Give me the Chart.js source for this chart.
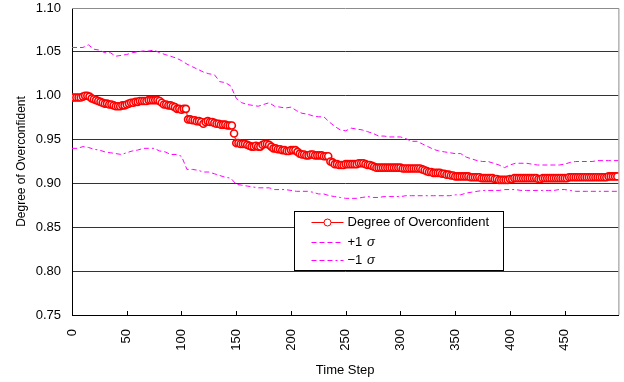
<!DOCTYPE html>
<html>
<head>
<meta charset="utf-8">
<script src="https://cdn.jsdelivr.net/npm/chart.js@4.4.1/dist/chart.umd.min.js"></script>
<style>
  html, body { margin: 0; padding: 0; background: #fff; }
  #wrap { width: 624px; height: 382px; }
</style>
</head>
<body>
<div id="wrap"><canvas id="chart" width="624" height="382"></canvas></div>
<script>
// time steps: mean sampled every 2 steps, sigma bands every 5 steps (last one at 499)
const meanSteps = Array.from({ length: 250 }, (_, i) => i * 2);
const sigmaSteps = [...Array.from({ length: 100 }, (_, i) => i * 5), 499];

const meanValues = [
  0.998, 0.998, 0.998, 0.998, 0.998, 0.999, 1.000, 1.000, 0.999, 0.997,
  0.996, 0.995, 0.994, 0.993, 0.992, 0.991, 0.991, 0.990, 0.990, 0.989,
  0.988, 0.988, 0.988, 0.989, 0.989, 0.990, 0.991, 0.992, 0.992, 0.993,
  0.993, 0.994, 0.994, 0.994, 0.994, 0.995, 0.995, 0.995, 0.995, 0.995,
  0.994, 0.992, 0.990, 0.990, 0.989, 0.989, 0.988, 0.987, 0.985, 0.985,
  0.984, 0.985, 0.985, 0.973, 0.973, 0.972, 0.972, 0.971, 0.971, 0.970,
  0.968, 0.970, 0.971, 0.970, 0.970, 0.969, 0.968, 0.968, 0.967, 0.967,
  0.967, 0.966, 0.966, 0.966, 0.957, 0.946, 0.946, 0.945, 0.945, 0.945,
  0.944, 0.943, 0.942, 0.942, 0.943, 0.942, 0.942, 0.944, 0.945, 0.945,
  0.944, 0.942, 0.940, 0.940, 0.939, 0.939, 0.938, 0.938, 0.937, 0.937,
  0.938, 0.938, 0.938, 0.936, 0.934, 0.933, 0.933, 0.932, 0.932, 0.933,
  0.933, 0.932, 0.932, 0.932, 0.932, 0.931, 0.931, 0.931, 0.925, 0.924,
  0.922, 0.922, 0.921, 0.921, 0.921, 0.922, 0.922, 0.922, 0.922, 0.922,
  0.922, 0.923, 0.923, 0.923, 0.922, 0.921, 0.921, 0.920, 0.919, 0.918,
  0.918, 0.918, 0.918, 0.918, 0.918, 0.918, 0.918, 0.918, 0.918, 0.918,
  0.918, 0.917, 0.917, 0.917, 0.917, 0.917, 0.917, 0.917, 0.917, 0.917,
  0.916, 0.915, 0.914, 0.913, 0.913, 0.912, 0.912, 0.912, 0.912, 0.911,
  0.911, 0.910, 0.910, 0.909, 0.909, 0.908, 0.908, 0.908, 0.908, 0.908,
  0.908, 0.908, 0.907, 0.907, 0.907, 0.907, 0.907, 0.906, 0.906, 0.906,
  0.906, 0.906, 0.906, 0.905, 0.905, 0.904, 0.904, 0.904, 0.904, 0.904,
  0.905, 0.905, 0.906, 0.906, 0.906, 0.906, 0.906, 0.906, 0.906, 0.906,
  0.906, 0.906, 0.906, 0.905, 0.905, 0.906, 0.906, 0.906, 0.906, 0.906,
  0.906, 0.906, 0.906, 0.906, 0.906, 0.906, 0.906, 0.907, 0.907, 0.907,
  0.907, 0.907, 0.907, 0.907, 0.907, 0.907, 0.907, 0.907, 0.907, 0.907,
  0.907, 0.907, 0.907, 0.907, 0.907, 0.908, 0.908, 0.908, 0.908, 0.908
];

const upperValues = [
  1.055, 1.055, 1.055, 1.058, 1.053, 1.052, 1.049, 1.049, 1.045, 1.046,
  1.047, 1.049, 1.050, 1.051, 1.051, 1.052, 1.049, 1.047, 1.045, 1.043,
  1.040, 1.036, 1.033, 1.030, 1.027, 1.025, 1.024, 1.016, 1.015, 1.011,
  0.997, 0.992, 0.990, 0.989, 0.988, 0.990, 0.992, 0.988, 0.987, 0.986,
  0.987, 0.983, 0.980, 0.979, 0.977, 0.976, 0.976, 0.970, 0.965, 0.961,
  0.960, 0.963, 0.962, 0.961, 0.959, 0.957, 0.954, 0.954, 0.953, 0.953,
  0.953, 0.951, 0.948, 0.948, 0.945, 0.942, 0.939, 0.937, 0.936, 0.935,
  0.934, 0.934, 0.930, 0.928, 0.926, 0.925, 0.925, 0.923, 0.921, 0.918,
  0.921, 0.923, 0.923, 0.923, 0.922, 0.921, 0.921, 0.921, 0.921, 0.921,
  0.922, 0.924, 0.925, 0.925, 0.925, 0.925, 0.926, 0.926, 0.926, 0.926,
  0.926
];

const lowerValues = [
  0.940, 0.940, 0.942, 0.941, 0.939, 0.938, 0.936, 0.935, 0.934, 0.933,
  0.935, 0.937, 0.938, 0.940, 0.940, 0.940, 0.937, 0.936, 0.933, 0.933,
  0.931, 0.916, 0.916, 0.915, 0.913, 0.913, 0.911, 0.909, 0.907, 0.906,
  0.899, 0.898, 0.897, 0.896, 0.895, 0.895, 0.895, 0.893, 0.893, 0.893,
  0.892, 0.891, 0.891, 0.891, 0.890, 0.888, 0.888, 0.886, 0.885, 0.884,
  0.883, 0.883, 0.883, 0.884, 0.885, 0.884, 0.884, 0.885, 0.885, 0.885,
  0.885, 0.886, 0.886, 0.886, 0.886, 0.886, 0.886, 0.886, 0.886, 0.886,
  0.887, 0.887, 0.889, 0.890, 0.891, 0.892, 0.892, 0.892, 0.892, 0.893,
  0.893, 0.893, 0.892, 0.892, 0.892, 0.892, 0.892, 0.892, 0.892, 0.893,
  0.893, 0.892, 0.891, 0.891, 0.891, 0.891, 0.891, 0.891, 0.891, 0.891,
  0.891
];

const xTickValues = [0, 50, 100, 150, 200, 250, 300, 350, 400, 450];
const yTickLabels = ['0.75', '0.80', '0.85', '0.90', '0.95', '1.00', '1.05', '1.10'];

const seriesNames = ['Degree of Overconfident', '+1 ', '\u22121 '];
const sigmaSymbol = '\u03c3';

const FONT = "'Liberation Sans', Arial, sans-serif";
const RED = '#ff0000';
const MAGENTA = '#ff00ff';
const upperDash = [5, 3];
const lowerDash = [5, 3, 5, 3, 5, 3, 2, 3];

function toPoints(steps, values) {
  return steps.map((s, i) => ({ x: s, y: values[i] }));
}

// gray frame on top/right, small upward ticks on the x axis
const framePlugin = {
  id: 'frame',
  beforeDatasetsDraw(chart) {
    const { ctx, chartArea: a, scales } = chart;
    ctx.save();
    ctx.strokeStyle = '#8c8c8c';
    ctx.lineWidth = 1;
    ctx.beginPath();
    ctx.moveTo(a.left, a.top + 0.5);
    ctx.lineTo(a.right + 0.5, a.top + 0.5);
    ctx.lineTo(a.right + 0.5, a.bottom);
    ctx.stroke();
    ctx.strokeStyle = '#000';
    ctx.beginPath();
    xTickValues.forEach(v => {
      const px = Math.round(scales.x.getPixelForValue(v)) + 0.5;
      ctx.moveTo(px, a.bottom);
      ctx.lineTo(px, a.bottom - 4);
    });
    ctx.stroke();
    ctx.restore();
  }
};

// boxed legend sitting inside the plot area
const legendBoxPlugin = {
  id: 'legendBox',
  afterDraw(chart) {
    const { ctx, chartArea: a } = chart;
    const left = Math.round(a.left + 222) + 0.5;
    const top = Math.round(a.top + 203) + 0.5;
    const w = 209, h = 59;
    ctx.save();
    ctx.fillStyle = '#fff';
    ctx.fillRect(left, top, w, h);
    ctx.strokeStyle = '#000';
    ctx.lineWidth = 1;
    ctx.strokeRect(left, top, w, h);

    const x0 = left + 17, x1 = left + 49, tx = left + 53;
    const rows = [top + 11, top + 31, top + 49];
    ctx.font = '13px ' + FONT;
    ctx.textBaseline = 'middle';
    ctx.fillStyle = '#000';

    // mean entry
    ctx.strokeStyle = RED;
    ctx.beginPath();
    ctx.moveTo(x0, rows[0]);
    ctx.lineTo(x1, rows[0]);
    ctx.stroke();
    ctx.beginPath();
    ctx.arc((x0 + x1) / 2, rows[0], 3.5, 0, Math.PI * 2);
    ctx.fillStyle = '#fff';
    ctx.fill();
    ctx.stroke();
    ctx.fillStyle = '#000';
    ctx.fillText(seriesNames[0], tx, rows[0]);

    // sigma entries
    [[upperDash, rows[1], seriesNames[1]], [lowerDash, rows[2], seriesNames[2]]].forEach(([dash, y, label]) => {
      ctx.strokeStyle = MAGENTA;
      ctx.setLineDash(dash);
      ctx.beginPath();
      ctx.moveTo(x0, y);
      ctx.lineTo(x1, y);
      ctx.stroke();
      ctx.setLineDash([]);
      ctx.font = '13px ' + FONT;
      ctx.fillText(label, tx, y);
      const lw = ctx.measureText(label).width;
      ctx.font = 'italic 13px ' + FONT;
      ctx.fillText(sigmaSymbol, tx + lw + 1, y);
    });
    ctx.restore();
  }
};

const ctx = document.getElementById('chart').getContext('2d');
new Chart(ctx, {
  type: 'line',
  data: {
    datasets: [
      {
        label: seriesNames[0],
        data: toPoints(meanSteps, meanValues),
        borderColor: RED,
        borderWidth: 1,
        pointRadius: 3.5,
        pointBackgroundColor: '#fff',
        pointBorderColor: RED,
        pointBorderWidth: 1.6,
        order: 0
      },
      {
        label: '+1 ' + sigmaSymbol,
        data: toPoints(sigmaSteps, upperValues),
        borderColor: MAGENTA,
        borderWidth: 1,
        borderDash: upperDash,
        pointRadius: 0,
        order: 1
      },
      {
        label: '\u22121 ' + sigmaSymbol,
        data: toPoints(sigmaSteps, lowerValues),
        borderColor: MAGENTA,
        borderWidth: 1,
        borderDash: lowerDash,
        pointRadius: 0,
        order: 2
      }
    ]
  },
  options: {
    responsive: false,
    animation: false,
    layout: { padding: { left: 0, right: 4, top: 8, bottom: 0 } },
    plugins: {
      legend: { display: false },
      tooltip: { enabled: false }
    },
    scales: {
      x: {
        type: 'linear',
        min: 0,
        max: 499,
        afterFit: s => { s.height = 67; s.paddingLeft = 0; s.paddingRight = 0; },
        afterBuildTicks: s => { s.ticks = xTickValues.map(v => ({ value: v })); },
        ticks: {
          includeBounds: false,
          minRotation: 90,
          maxRotation: 90,
          padding: 14,
          color: '#000',
          font: { family: FONT, size: 13 },
          callback: v => String(v)
        },
        grid: { display: false, drawTicks: false },
        border: { display: true, color: '#000', width: 1 },
        title: {
          display: true,
          text: 'Time Step',
          color: '#000',
          font: { family: FONT, size: 13 },
          padding: { top: 0, bottom: 4 }
        }
      },
      y: {
        min: 0.75,
        max: 1.10,
        afterFit: s => { s.width = 72; s.paddingTop = 0; s.paddingBottom = 0; },
        afterBuildTicks: s => { s.ticks = yTickLabels.map(t => ({ value: parseFloat(t) })); },
        ticks: {
          includeBounds: false,
          padding: 11,
          color: '#000',
          font: { family: FONT, size: 13 },
          callback: v => v.toFixed(2)
        },
        grid: {
          drawTicks: false,
          color: ctx => (ctx.tick && Math.abs(ctx.tick.value - 1.10) < 1e-6 ? 'rgba(0,0,0,0)' : '#333'),
          lineWidth: 1
        },
        border: { display: true, color: '#000', width: 1 },
        title: {
          display: true,
          text: 'Degree of Overconfident',
          color: '#000',
          font: { family: FONT, size: 12 },
          padding: { top: 14, bottom: 0 }
        }
      }
    }
  },
  plugins: [framePlugin, legendBoxPlugin]
});
</script>
</body>
</html>
